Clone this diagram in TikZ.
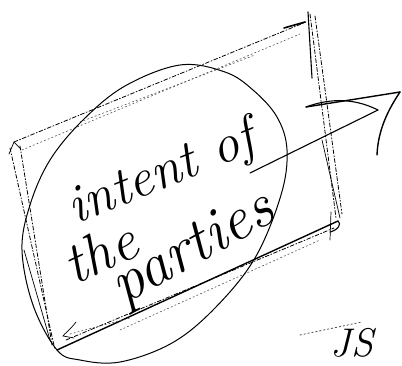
\documentclass[tikz,border=0pt]{standalone}
\usetikzlibrary{calc}
\tikzset{
  pen/.style={draw=black, line width=1.1pt, line cap=round, line join=round},
  thinpen/.style={draw=black, line width=0.7pt, line cap=round},
  dashpen/.style={draw=black, line width=0.8pt, dash pattern=on 4pt off 2pt on 1pt off 2pt, line cap=round},
  dotpen/.style={draw=black!70, line width=0.6pt, dash pattern=on 1.5pt off 2.5pt, line cap=round},
  hand/.style={font=\fontsize{54}{60}\selectfont\itshape, inner sep=0pt}
}
\begin{document}
\begin{tikzpicture}[x=1pt,y=-1pt]
\useasboundingbox (0,0) rectangle (402,365);
% corners of the sketched quadrilateral
\coordinate (TL) at (14,142);
\coordinate (TR) at (308,12);
\coordinate (BR) at (338,221);
\coordinate (BL) at (57,350);
% top edge
\draw[dashpen] (TL) -- (306,22);
\draw[dotpen] (22,150) -- (300,34);
\draw[dotpen] (80,122) -- (255,55);
\draw[pen, line width=1.6pt] (284,28) -- (305,22);
% right edge
\draw[pen] (TR) -- (312,78);
\draw[dashpen] (310,14) -- (336,218);
\draw[dashpen] (315,16) -- (342,214);
\draw[thinpen] (322,140) -- (340,218);
% bottom edge
\draw[pen, line width=1.4pt] (BL) -- (BR);
\draw[dashpen] (66,340) -- (334,228);
\draw[dotpen] (120,330) -- (320,240);
\draw[pen] (BR) .. controls (342,224) and (338,230) .. (330,232);
\draw[thinpen] (331,212) -- (330,240);
% left edge
\draw[dashpen] (10,148) -- (55,350);
\draw[dashpen] (20,146) -- (52,345);
\draw[thinpen] (24,250) -- (50,340);
% small hooks at the corners
\draw[thinpen] (9,154) -- (14,142) -- (21,149);
\draw[thinpen] (76,322) .. controls (70,330) and (64,334) .. (63,336) -- (74,338);
\draw[dotpen] (70,334) -- (130,318);
% the oval
\draw[pen, line width=1pt] plot[smooth cycle, tension=0.6] coordinates {
  (57,350) (33,305) (22,250) (30,205) (50,160) (83,120) (125,86) (180,65)
  (225,72) (253,90) (277,117) (287,150) (281,195) (255,258) (215,308)
  (172,343) (120,362) (80,360)};
% arrow
\coordinate (S) at (250,173);
\coordinate (T) at (378,110);
\coordinate (B) at (306,107);
\coordinate (K) at (400,92);
\coordinate (E) at (377,155);
\draw[pen] (S) -- (T);
\draw[pen] (T) .. controls (350,96) and (325,100) .. (B);
\draw[pen, line width=1.4pt] (B) -- (K);
\draw[pen, line width=1.4pt] (K) .. controls (388,110) and (378,130) .. (E);
% texts
\node[hand, rotate=22] (intent) at (162,175) {intent of};
\node[hand, font=\fontsize{58}{62}\selectfont\itshape, rotate=25] (the) at (100,252) {the};
\node[hand, font=\fontsize{62}{66}\selectfont\itshape, rotate=29] (parties) at (194,250) {parties};
% initials
\draw[dotpen, line width=0.8pt] (300,335) -- (362,322);
\node[font=\fontsize{40}{44}\selectfont\itshape, inner sep=0pt] (js) at (352,343) {JS};
\end{tikzpicture}
\end{document}
